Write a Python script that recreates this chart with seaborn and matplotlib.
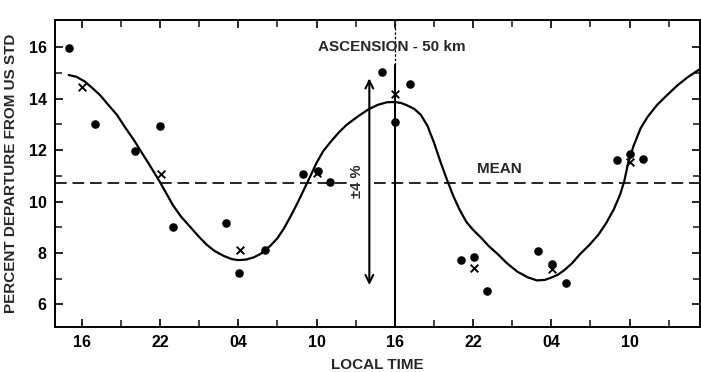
import matplotlib
matplotlib.use("Agg")
import matplotlib.pyplot as plt
import seaborn as sns
import pandas as pd

# ---- data (local time as continuous hours, 16 = first 16h, 40 = second 16h) ----
dot_hours = [15.03, 17.02, 20.09, 22.0, 23.03, 27.05, 28.07, 30.07, 32.96, 34.1,
             35.0, 39.02, 40.0, 41.14, 45.09, 46.05, 47.08, 50.97, 52.07, 53.14,
             57.06, 58.03, 59.02]
dot_values = [15.96, 13.02, 11.98, 12.95, 9.02, 9.18, 7.21, 8.11, 11.06, 11.2,
              10.77, 15.05, 13.08, 14.57, 7.72, 7.83, 6.52, 8.07, 7.56, 6.82,
              11.61, 11.84, 11.65]

cross_hours = [16.0, 22.08, 28.1, 34.0, 40.0, 46.05, 52.07, 58.03]
cross_values = [14.47, 11.06, 8.11, 11.1, 14.19, 7.40, 7.36, 11.55]

curve_hours = [15.0, 15.6, 16.25, 16.8, 17.4, 18.0, 18.7, 19.3, 20.0, 20.6, 21.2,
               22.0, 22.5, 23.0, 23.6, 24.3, 25.0, 25.6, 26.2, 26.9, 27.5, 28.0,
               28.6, 29.2, 29.7, 30.1, 30.5, 31.0, 31.5, 32.0, 32.5, 32.9, 33.5,
               34.0, 34.5, 35.1, 35.7, 36.3, 37.2, 38.0, 38.7, 39.4, 40.0, 40.5,
               40.9, 41.5, 42.0, 42.5, 43.0, 43.5, 44.0, 44.5, 45.0, 45.5, 46.0,
               46.6, 47.2, 47.9, 48.6, 49.4, 50.2, 50.9, 51.5, 51.9, 52.5, 53.0,
               53.6, 54.2, 54.9, 55.6, 56.2, 56.8, 57.3, 57.6, 57.9, 58.3, 58.85,
               59.4, 60.1, 60.9, 61.7, 62.5, 63.4]
curve_values = [14.92, 14.85, 14.66, 14.42, 14.14, 13.78, 13.37, 12.90, 12.39, 11.90, 11.42,
                10.75, 10.30, 9.85, 9.42, 9.02, 8.62, 8.31, 8.07, 7.88, 7.76, 7.72,
                7.74, 7.83, 7.96, 8.11, 8.30, 8.57, 8.95, 9.41, 9.90, 10.32, 10.96,
                11.50, 11.95, 12.33, 12.68, 12.98, 13.32, 13.59, 13.76, 13.86, 13.87, 13.83,
                13.75, 13.60, 13.37, 12.95, 12.30, 11.55, 10.85, 10.20, 9.65, 9.20, 8.90,
                8.60, 8.27, 7.95, 7.60, 7.27, 7.05, 6.93, 6.95, 7.02, 7.15, 7.33,
                7.60, 7.95, 8.30, 8.70, 9.15, 9.70, 10.30, 10.80, 11.50, 12.15, 12.85,
                13.30, 13.75, 14.15, 14.53, 14.85, 15.15]

mean_value = 10.71
amplitude_low, amplitude_high = 6.75, 14.79
tick_hours = [16, 22, 28, 34, 40, 46, 52, 58]
tick_labels = ["16", "22", "04", "10", "16", "22", "04", "10"]
y_ticks = [6, 8, 10, 12, 14, 16]

# ---- figure ----
sns.set_style("ticks")
plt.rcParams["font.family"] = ["Liberation Sans", "DejaVu Sans"]
plt.rcParams["font.weight"] = "bold"

fig = plt.figure(figsize=(7.01, 3.72), dpi=100)
ax = fig.add_axes([0.0785, 0.1218, 0.92, 0.8244])

xmin, xmax = 13.95, 63.4
ymin, ymax = 5.13, 17.06

curve_df = pd.DataFrame({"hour": curve_hours, "value": curve_values})
dots_df = pd.DataFrame({"hour": dot_hours, "value": dot_values})
cross_df = pd.DataFrame({"hour": cross_hours, "value": cross_values})

sns.lineplot(data=curve_df, x="hour", y="value", ax=ax, color="black",
             linewidth=1.6, sort=False, estimator=None)
sns.scatterplot(data=dots_df, x="hour", y="value", ax=ax, color="black",
                s=38, edgecolor="black", linewidth=0, zorder=4)
sns.scatterplot(data=cross_df, x="hour", y="value", ax=ax, color="black",
                marker="x", s=30, linewidth=1.4, zorder=5)

# mean dashed line (broken around the +-4% label)
ax.plot([xmin, 36.6], [mean_value, mean_value], color="black", lw=1.2,
        dashes=(7, 3.5))
ax.plot([38.4, xmax], [mean_value, mean_value], color="black", lw=1.2,
        dashes=(7, 3.5))

# vertical line at 16 local time (second day)
ax.plot([40, 40], [ymin, 15.3], color="black", lw=1.5)
ax.plot([40, 40], [15.3, ymax], color="black", lw=0.9, dashes=(2, 1.5))

# +-4 % double arrow
ax.annotate("", xy=(38.05, amplitude_high), xytext=(38.05, amplitude_low),
            arrowprops=dict(arrowstyle="<->", color="black", lw=1.5,
                            mutation_scale=14, shrinkA=0, shrinkB=0))
ax.text(37.13, 10.78, "±4 %", rotation=90, ha="center", va="center",
        fontsize=10.5, fontweight="bold")

ax.text(39.8, 16.0, "ASCENSION - 50 km", ha="center", va="center",
        fontsize=11, fontweight="bold")
ax.text(48.0, 11.25, "MEAN", ha="center", va="center",
        fontsize=11, fontweight="bold")

ax.set_xlim(xmin, xmax)
ax.set_ylim(ymin, ymax)
ax.set_xticks(tick_hours)
ax.set_xticklabels(tick_labels)
ax.set_xticks(list(range(19, 63, 6)), minor=True)
ax.set_yticks(y_ticks)
ax.set_yticks(list(range(7, 17, 2)), minor=True)

ax.tick_params(axis="both", which="major", direction="in", length=6, width=1.2,
               top=True, right=True, labelsize=11.5, pad=6, colors="black")
ax.tick_params(axis="both", which="minor", direction="in", length=5, width=1.2,
               top=True, right=True)
for lab in ax.get_xticklabels() + ax.get_yticklabels():
    lab.set_fontweight("bold")

for sp in ax.spines.values():
    sp.set_visible(True)
    sp.set_linewidth(1.4)
    sp.set_color("black")

ax.set_xlabel("LOCAL TIME", fontsize=11, fontweight="bold", labelpad=6)
ax.set_ylabel("PERCENT DEPARTURE FROM US STD", fontsize=11, fontweight="bold",
              labelpad=8)
ax.grid(False)

fig.savefig("out.png", dpi=100)
